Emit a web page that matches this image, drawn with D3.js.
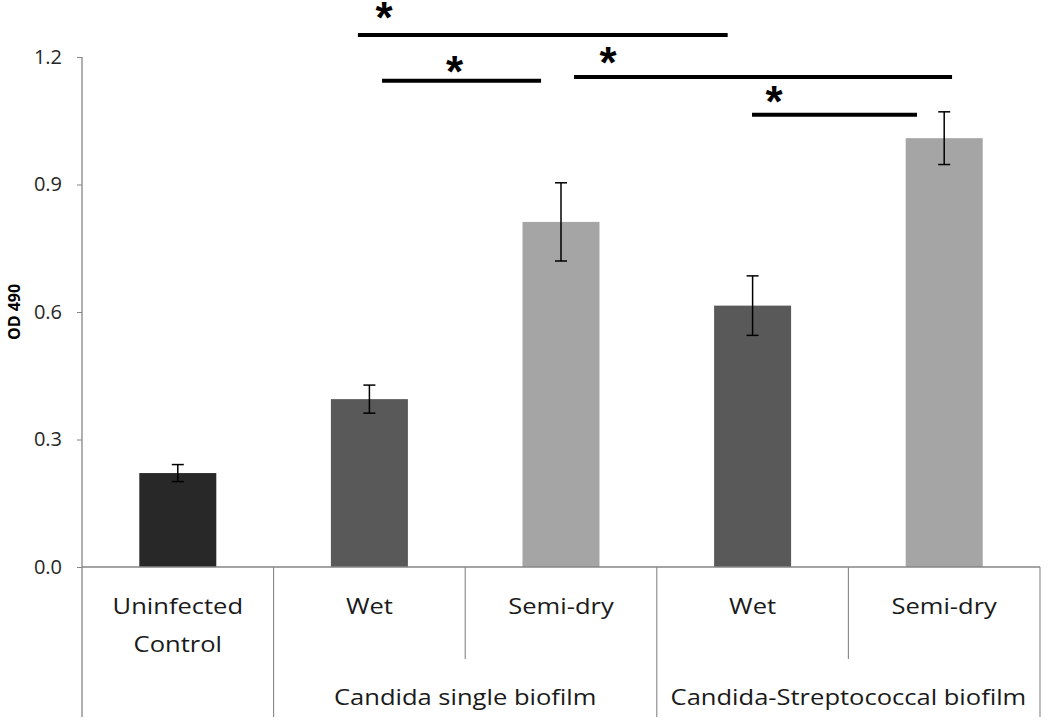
<!DOCTYPE html>
<html>
<head>
<meta charset="utf-8">
<script src="https://cdn.jsdelivr.net/npm/d3@7"></script>
<style>
  html, body { margin: 0; padding: 0; background: #fff; }
  svg { display: block; }
</style>
</head>
<body>
<svg id="chart" width="1050" height="726"></svg>
<script>
// ---- data ----
const categories = ["Uninfected Control", "Wet", "Semi-dry", "Wet", "Semi-dry"];
const categoryLines = [["Uninfected", "Control"], ["Wet"], ["Semi-dry"], ["Wet"], ["Semi-dry"]];
const values = [0.221, 0.395, 0.812, 0.615, 1.009];
const errors = [0.020, 0.033, 0.092, 0.070, 0.062];
const barColors = ["#282828", "#595959", "#a5a5a5", "#595959", "#a5a5a5"];
const groups = ["", "Candida single biofilm", "Candida-Streptococcal biofilm"];
const groupSpans = [[0, 1], [1, 3], [3, 5]];
const yTicks = [0.0, 0.3, 0.6, 0.9, 1.2];
const yLabel = "OD 490";
// significance bars: [from, to] in category units, height in OD units
const sigFrom = [1.44, 1.566, 2.568, 3.497];
const sigTo = [3.37, 2.396, 4.541, 4.358];
const sigY = [1.252, 1.144, 1.153, 1.064];
const starX = [1.576, 1.944, 2.745, 3.612];
const starY = [1.304, 1.179, 1.200, 1.108];

(function () {
// ---- layout ----
const svg = d3.select("#chart");
const mLeft = 82, mRight = 1040, mTop = 57, mBottom = 567;
const axisColor = "#868686";
const font = "'Open Sans', 'DejaVu Sans', sans-serif";

const x = d3.scaleBand().domain(d3.range(categories.length)).range([mLeft, mRight]).paddingInner(0).paddingOuter(0);
const xu = d3.scaleLinear().domain([0, categories.length]).range([mLeft, mRight]);
const y = d3.scaleLinear().domain([0, 1.2]).range([mBottom, mTop]);
const barW = 77;

// bars
svg.append("g").selectAll("rect").data(values).join("rect")
  .attr("x", (d, i) => x(i) + x.bandwidth() / 2 - barW / 2)
  .attr("y", d => y(d))
  .attr("width", barW)
  .attr("height", d => y(0) - y(d))
  .attr("fill", (d, i) => barColors[i]);

// error bars
const eg = svg.append("g").attr("stroke", "#000").attr("stroke-width", 1.5);
values.forEach((v, i) => {
  const cx = x(i) + x.bandwidth() / 2;
  eg.append("line").attr("x1", cx).attr("x2", cx).attr("y1", y(v + errors[i])).attr("y2", y(v - errors[i]));
  eg.append("line").attr("x1", cx - 6).attr("x2", cx + 6).attr("y1", y(v + errors[i])).attr("y2", y(v + errors[i]));
  eg.append("line").attr("x1", cx - 6).attr("x2", cx + 6).attr("y1", y(v - errors[i])).attr("y2", y(v - errors[i]));
});

// y axis
const yAxis = d3.axisLeft(y).tickValues(yTicks).tickFormat(d3.format(".1f")).tickSizeOuter(0).tickSizeInner(5).tickPadding(15);
const ya = svg.append("g").attr("transform", `translate(${mLeft},0)`).call(yAxis);
ya.select(".domain").remove();
ya.selectAll(".tick line").attr("stroke", axisColor);
ya.selectAll(".tick text").attr("font-family", font).attr("font-size", 20).attr("fill", "#262626");
svg.append("line").attr("x1", mLeft).attr("x2", mLeft).attr("y1", mTop).attr("y2", 717)
  .attr("stroke", axisColor).attr("stroke-width", 1.3);

// x axis baseline
svg.append("line").attr("x1", mLeft).attr("x2", mRight).attr("y1", mBottom).attr("y2", mBottom)
  .attr("stroke", axisColor).attr("stroke-width", 1.3);

// category separators
const sepLong = [1, 3, 5];
const sepShort = [2, 4];
sepLong.forEach(k => svg.append("line").attr("x1", xu(k)).attr("x2", xu(k)).attr("y1", mBottom).attr("y2", 717)
  .attr("stroke", axisColor).attr("stroke-width", 1.1));
sepShort.forEach(k => svg.append("line").attr("x1", xu(k)).attr("x2", xu(k)).attr("y1", mBottom).attr("y2", 659)
  .attr("stroke", axisColor).attr("stroke-width", 1.1));

// category labels
const stretch = 1.16;
function fitStretch(sel) {
  sel.each(function () {
    const l = this.getComputedTextLength();
    d3.select(this).attr("textLength", l * stretch).attr("lengthAdjust", "spacingAndGlyphs");
  });
}
const cl = svg.append("g").attr("font-family", font).attr("font-size", 22).attr("fill", "#1a1a1a").attr("text-anchor", "middle");
categoryLines.forEach((lines, i) => {
  lines.forEach((t, j) => {
    cl.append("text").attr("x", x(i) + x.bandwidth() / 2).attr("y", 614 + j * 38).text(t);
  });
});
groups.forEach((g, i) => {
  if (!g) return;
  const [a, b] = groupSpans[i];
  cl.append("text").attr("x", (xu(a) + xu(b)) / 2).attr("y", 705).text(g);
});
fitStretch(cl.selectAll("text"));

// y label
svg.append("text").attr("transform", `translate(20,${y(0.6)}) rotate(-90)`)
  .attr("text-anchor", "middle").attr("font-family", font).attr("font-weight", "bold")
  .attr("font-size", 16).attr("fill", "#000").text(yLabel);

// significance bars
const sg = svg.append("g");
sigFrom.forEach((f, i) => {
  sg.append("line").attr("x1", xu(f)).attr("x2", xu(sigTo[i])).attr("y1", y(sigY[i])).attr("y2", y(sigY[i]))
    .attr("stroke", "#000").attr("stroke-width", 4);
});
const starFs = 44;
starX.forEach((s, i) => {
  sg.append("text").attr("x", xu(s)).attr("y", y(starY[i]) + starFs * 0.47)
    .attr("text-anchor", "middle").attr("font-family", "'Liberation Sans', Arial, sans-serif")
    .attr("font-weight", "bold").attr("font-size", starFs).attr("fill", "#000").text("*");
});
})();
</script>
</body>
</html>
